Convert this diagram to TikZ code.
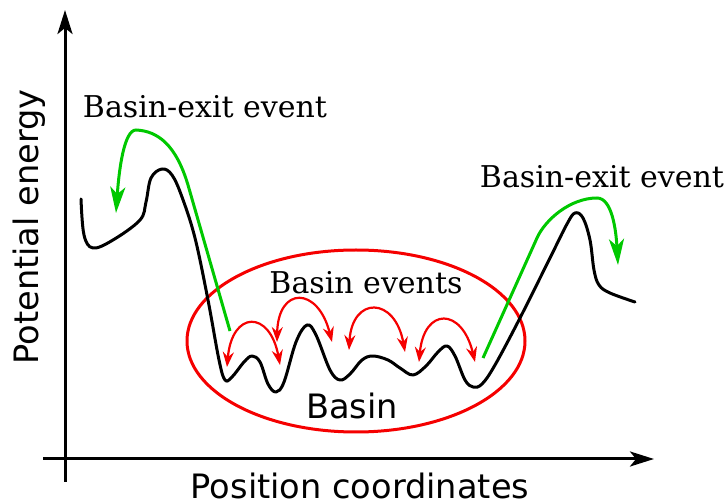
\documentclass[tikz,border=0pt]{standalone}
\usepackage{fontspec}
\setmainfont{DejaVu Serif}
\setsansfont{DejaVu Sans}
\usetikzlibrary{arrows.meta}
\definecolor{gr}{RGB}{0,200,0}
\definecolor{rd}{RGB}{245,0,0}
\tikzset{
  axis/.style={line width=3pt, -{Stealth[length=24pt,width=15pt,inset=6pt]}},
  pes/.style={line width=3pt, black, line join=round, line cap=round},
  exitarr/.style={line width=3pt, gr, -{Stealth[length=26pt,width=15pt,inset=7pt]}},
  basinarr/.style={line width=2.2pt, rd, {Stealth[length=15pt,width=11pt,inset=5pt]}-{Stealth[length=15pt,width=11pt,inset=5pt]}},
  serlab/.style={font=\fontsize{30}{35}\selectfont, inner sep=0pt},
  sanslab/.style={font=\sffamily\fontsize{33.6}{40}\selectfont, inner sep=0pt},
}
\begin{document}
\begin{tikzpicture}[x=1pt,y=-1pt]
\useasboundingbox (0,0) rectangle (726,502);
% axes
\coordinate (ybot) at (65,482);
\coordinate (ytop) at (65,10);
\coordinate (xl) at (43,459);
\coordinate (xr) at (654,459);
\draw[axis] (ybot) -- (ytop);
\draw[axis] (xl) -- (xr);
% basin ellipse
\draw[rd, line width=3pt] (356,341) ellipse [x radius=169, y radius=91];
% potential energy curve
\draw[pes] plot[smooth, tension=0.6] coordinates {
 (81,199) (84,235) (93,248) (113,240) (140,220) (146,202) (151,178) (162,169) (172,175) (182,197)
 (195,238) (208,300) (219,360) (225,380) (232,377) (244,362) (252,356) (260,362) (268,384) (276,392)
 (284,382) (296,342) (307,325) (316,335) (330,370) (340,380) (350,374) (362,360) (373,356) (388,360)
 (400,368) (413,375) (426,366) (438,352) (447,346) (455,356) (465,380) (473,387) (482,384) (495,365)
 (520,318) (550,258) (567,224) (575,213) (583,218) (590,240) (594,270) (599,285) (610,293) (635,302)};
% green exit arrows
\draw[exitarr] (230,331) -- (188,185) .. controls (176,145) and (158,131) .. (136,130)
  .. controls (124,130) and (119,170) .. (116,213);
\draw[exitarr] (483,358) -- (537,238) .. controls (545,220) and (570,198) .. (597,198)
  .. controls (612,198) and (616,230) .. (618,265);
% red basin events
\draw[basinarr] (227,367) .. controls (232,310) and (270,310) .. (280,365);
\draw[basinarr] (277,342) .. controls (278,286) and (318,286) .. (332,342);
\draw[basinarr] (349,350) .. controls (352,296) and (395,296) .. (405,352);
\draw[basinarr] (419,362) .. controls (424,307) and (462,307) .. (475,362);
% labels
\node[serlab] (exitL) at (205,107) {Basin-exit event};
\node[serlab] (exitR) at (602,177) {Basin-exit event};
\node[serlab] (bev) at (366,283) {Basin events};
\node[sanslab] (basin) at (352,406) {Basin};
\node[sanslab] (xlab) at (360,486) {Position coordinates};
\node[sanslab, rotate=90] (ylab) at (29,227) {Potential energy};
\end{tikzpicture}
\end{document}
